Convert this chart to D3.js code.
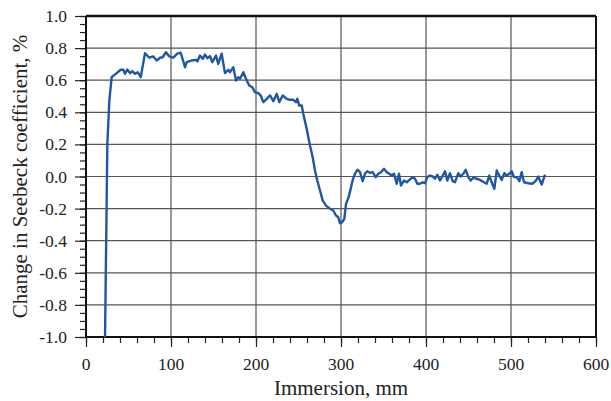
<!DOCTYPE html>
<html><head><meta charset="utf-8">
<script src="https://cdn.jsdelivr.net/npm/d3@7"></script>
<style>body{margin:0;background:#fff}</style>
</head><body>
<svg id="c" width="611" height="401"></svg>
<script>
const immersion = [22.4,25.1,27.4,30.2,36.1,40.8,43.9,45.9,48.6,51.8,54.5,57.6,60.8,64.4,69.4,74.5,79.2,83.2,87.1,90.2,94.1,98.0,102.7,107.4,111.4,116.5,118.5,124.4,129.4,131.0,134.1,137.3,140.0,142.7,145.9,148.6,152.9,155.6,159.6,163.5,167.4,169.4,173.3,176.5,179.2,181.2,185.1,189.1,192.1,195.6,198.8,202.7,205.5,208.6,212.6,216.5,220.4,224.4,227.4,231.4,236.1,240.0,243.9,247.1,248.6,250.9,253.8,255.6,259.6,263.5,266.7,269.4,272.1,275.3,278.5,282.4,286.2,290.9,294.1,296.8,298.8,301.5,303.9,305.9,308.6,311.4,313.8,316.5,319.2,322.4,325.5,328.2,330.9,334.1,337.3,340.8,343.9,347.1,350.6,353.8,356.8,359.6,362.4,365.5,368.2,370.6,374.1,377.3,380.4,384.4,387.1,389.8,392.9,396.1,398.8,401.5,404.7,407.9,410.6,413.3,416.5,419.2,422.4,425.1,428.2,431.4,434.1,438.0,440.8,443.9,446.7,449.8,452.6,455.6,459.6,463.5,468.2,471.4,474.5,477.3,480.4,483.2,486.2,489.1,492.1,494.9,498.0,500.8,503.5,506.7,509.8,512.6,515.3,520.4,525.5,529.4,532.1,536.1,540.0];
const seebeckChange = [-1.0,0.2,0.47,0.619,0.644,0.665,0.665,0.640,0.667,0.644,0.656,0.640,0.650,0.619,0.768,0.740,0.748,0.723,0.740,0.743,0.774,0.748,0.740,0.765,0.771,0.681,0.712,0.723,0.727,0.717,0.754,0.733,0.760,0.737,0.750,0.712,0.754,0.702,0.765,0.644,0.665,0.650,0.681,0.598,0.619,0.609,0.650,0.598,0.567,0.556,0.525,0.519,0.505,0.463,0.484,0.505,0.469,0.515,0.463,0.505,0.484,0.478,0.478,0.463,0.484,0.442,0.442,0.391,0.297,0.193,0.120,0.037,-0.025,-0.087,-0.150,-0.181,-0.198,-0.212,-0.243,-0.254,-0.291,-0.285,-0.264,-0.170,-0.135,-0.077,-0.021,0.017,0.042,0.027,-0.029,0.017,0.033,0.023,0.027,-0.004,0.017,0.027,0.048,0.027,0.017,0.006,0.017,-0.045,0.017,-0.056,-0.025,-0.036,-0.021,-0.004,-0.014,-0.045,-0.045,-0.036,-0.042,-0.004,0.006,0.000,-0.014,0.011,-0.025,0.000,0.033,-0.025,0.021,-0.029,-0.036,0.021,0.000,0.017,0.042,-0.004,-0.025,-0.008,-0.014,-0.021,-0.036,-0.045,0.006,-0.036,-0.077,0.037,0.006,-0.021,0.021,0.006,0.017,0.033,-0.004,-0.004,-0.029,0.027,-0.036,-0.042,-0.045,-0.025,0.000,-0.050,0.011];
const xTicks = [0,100,200,300,400,500,600];
const yTicks = [-1.0,-0.8,-0.6,-0.4,-0.2,0.0,0.2,0.4,0.6,0.8,1.0];
const xTickLabels = ["0","100","200","300","400","500","600"];
const yTickLabels = ["-1.0","-0.8","-0.6","-0.4","-0.2","0.0","0.2","0.4","0.6","0.8","1.0"];
const xTitle = "Immersion, mm";
const yTitle = "Change in Seebeck coefficient, %";

const W = 611, H = 401;
const m = {l:86, r:15, t:16, b:64};
const svg = d3.select("#c");
const x = d3.scaleLinear().domain([0,600]).range([m.l, W-m.r]);
const y = d3.scaleLinear().domain([-1,1]).range([H-m.b, m.t]);
const font = "Liberation Serif";

// gridlines
svg.append("g").selectAll("line").data(xTicks.slice(1,-1)).join("line")
  .attr("x1",d=>x(d)).attr("x2",d=>x(d)).attr("y1",y(-1)).attr("y2",y(1))
  .attr("stroke","#555").attr("stroke-width",1.2);
svg.append("g").selectAll("line").data(yTicks.slice(1,-1)).join("line")
  .attr("x1",x(0)).attr("x2",x(600)).attr("y1",d=>y(d)).attr("y2",d=>y(d))
  .attr("stroke","#555").attr("stroke-width",1.2);

// ticks (minor + major) via d3 axes, labels drawn separately
const xMinor = d3.range(0,601,20);
const yMinor = d3.range(-1,1.0001,0.05);
function tickAxis(axis, transform, size, vals){
  const g = svg.append("g").attr("transform",transform)
    .call(axis.tickValues(vals).tickSize(size).tickFormat(() => ""));
  g.select(".domain").remove();
  g.selectAll("text").remove();
  g.selectAll("line").attr("stroke","#222").attr("stroke-width",1.2);
  return g;
}
tickAxis(d3.axisBottom(x), `translate(0,${y(-1)})`, 6, xMinor);
tickAxis(d3.axisLeft(y), `translate(${x(0)},0)`, 6, yMinor);
tickAxis(d3.axisBottom(x), `translate(0,${y(-1)})`, 10, xTicks);
tickAxis(d3.axisLeft(y), `translate(${x(0)},0)`, 11, yTicks);

svg.append("g").selectAll("text").data(xTicks).join("text")
  .attr("x",d=>x(d)).attr("y",y(-1)+33).attr("text-anchor","middle")
  .attr("font-family",font).attr("font-size",17.5).attr("fill","#222")
  .text((d,i)=>xTickLabels[i]);
svg.append("g").selectAll("text").data(yTicks).join("text")
  .attr("x",x(0)-19).attr("y",d=>y(d)+6).attr("text-anchor","end")
  .attr("font-family",font).attr("font-size",17.5).attr("fill","#222")
  .text((d,i)=>yTickLabels[i]);

// frame
svg.append("line").attr("x1",x(0)).attr("x2",x(600)).attr("y1",y(1)).attr("y2",y(1)).attr("stroke","#111").attr("stroke-width",2.5);
svg.append("line").attr("x1",x(0)).attr("x2",x(600)).attr("y1",y(-1)).attr("y2",y(-1)).attr("stroke","#111").attr("stroke-width",2);
svg.append("line").attr("x1",x(0)).attr("x2",x(0)).attr("y1",y(-1)).attr("y2",y(1)).attr("stroke","#111").attr("stroke-width",2);
svg.append("line").attr("x1",x(600)).attr("x2",x(600)).attr("y1",y(-1)).attr("y2",y(1)).attr("stroke","#111").attr("stroke-width",2);

// data line
const pts = immersion.map((v,i)=>[v,seebeckChange[i]]);
svg.append("path").datum(pts)
  .attr("d", d3.line().x(d=>x(d[0])).y(d=>y(d[1])))
  .attr("fill","none").attr("stroke","#1f56a6").attr("stroke-width",2.4).attr("stroke-linejoin","round");

// titles
svg.append("text").attr("x",(x(0)+x(600))/2).attr("y",395).attr("text-anchor","middle")
  .attr("font-family",font).attr("font-size",21).attr("fill","#222").text(xTitle);
svg.append("text").attr("transform",`translate(27,${(y(1)+y(-1))/2}) rotate(-90)`).attr("text-anchor","middle")
  .attr("font-family",font).attr("font-size",21).attr("fill","#222").text(yTitle);
</script>
</body></html>
